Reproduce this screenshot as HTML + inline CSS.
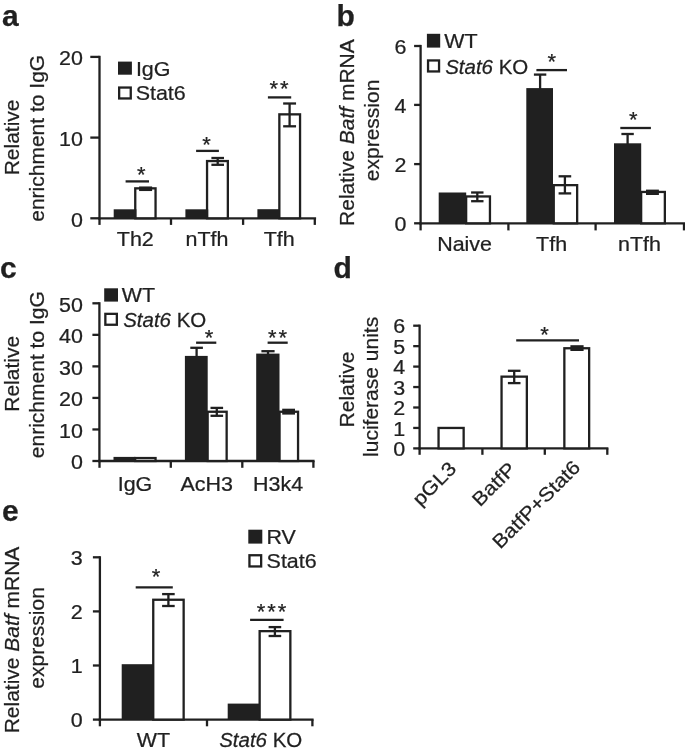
<!DOCTYPE html>
<html><head><meta charset="utf-8"><style>
html,body{margin:0;padding:0;background:#fff;}
body{width:685px;height:752px;overflow:hidden;}
svg{display:block;font-family:"Liberation Sans",sans-serif;filter:grayscale(100%);}
</style></head><body>
<svg width="685" height="752" viewBox="0 0 685 752" stroke="#231f20" stroke-linecap="butt" fill="none">
<rect x="0" y="0" width="685" height="752" fill="#fff" stroke="none"/>
<text x="2" y="25.6" font-size="30" font-weight="bold" fill="#231f20" stroke="#231f20" stroke-width="0.25">a</text>
<line x1="99.5" y1="55.8" x2="99.5" y2="219.45" stroke-width="2.3"/>
<line x1="90.3" y1="56.9" x2="99.5" y2="56.9" stroke-width="2.3"/>
<text transform="translate(82.9,65.2) scale(1.1,1)" font-size="19.5" text-anchor="end" fill="#231f20" stroke="#231f20" stroke-width="0.25">20</text>
<line x1="90.3" y1="137.6" x2="99.5" y2="137.6" stroke-width="2.3"/>
<text transform="translate(82.9,145.9) scale(1.1,1)" font-size="19.5" text-anchor="end" fill="#231f20" stroke="#231f20" stroke-width="0.25">10</text>
<line x1="90.3" y1="218.3" x2="99.5" y2="218.3" stroke-width="2.3"/>
<text transform="translate(82.9,226.6) scale(1.1,1)" font-size="19.5" text-anchor="end" fill="#231f20" stroke="#231f20" stroke-width="0.25">0</text>
<line x1="98.3" y1="218.3" x2="316.1" y2="218.3" stroke-width="2.3"/>
<line x1="99.5" y1="218.3" x2="99.5" y2="224.9" stroke-width="2.3"/>
<line x1="171" y1="218.3" x2="171" y2="224.9" stroke-width="2.3"/>
<line x1="243.1" y1="218.3" x2="243.1" y2="224.9" stroke-width="2.3"/>
<line x1="314.8" y1="218.3" x2="314.8" y2="224.9" stroke-width="2.3"/>
<rect x="135.25" y="188.35" width="20.3" height="29.95" fill="#fff" stroke-width="2.3"/>
<rect x="113.7" y="209.3" width="22.7" height="9" fill="#231f20" stroke="none"/>
<line x1="145.6" y1="187.6" x2="145.6" y2="189.9" stroke-width="2.3"/>
<line x1="139.1" y1="187.6" x2="152.1" y2="187.6" stroke-width="2.3"/>
<line x1="139.1" y1="189.9" x2="152.1" y2="189.9" stroke-width="2.3"/>
<rect x="207.05" y="161.05" width="20.8" height="57.25" fill="#fff" stroke-width="2.3"/>
<rect x="185.4" y="209.3" width="22.8" height="9" fill="#231f20" stroke="none"/>
<line x1="217.7" y1="158" x2="217.7" y2="164.8" stroke-width="2.3"/>
<line x1="211.4" y1="158" x2="224" y2="158" stroke-width="2.3"/>
<line x1="211.4" y1="164.8" x2="224" y2="164.8" stroke-width="2.3"/>
<rect x="279.35" y="114.35" width="20.7" height="103.95" fill="#fff" stroke-width="2.3"/>
<rect x="257.4" y="209.2" width="22.1" height="9.1" fill="#231f20" stroke="none"/>
<line x1="289.6" y1="103.5" x2="289.6" y2="126.3" stroke-width="2.3"/>
<line x1="283.15" y1="103.5" x2="296.05" y2="103.5" stroke-width="2.3"/>
<line x1="283.15" y1="126.3" x2="296.05" y2="126.3" stroke-width="2.3"/>
<line x1="125.6" y1="181.4" x2="149" y2="181.4" stroke-width="2.3"/>
<text x="142.4" y="181.78" font-size="22" letter-spacing="2.0" text-anchor="middle" fill="#231f20" stroke="#231f20" stroke-width="0.25">*</text>
<line x1="196.1" y1="150.9" x2="218.9" y2="150.9" stroke-width="2.3"/>
<text x="207.5" y="152.28" font-size="22" letter-spacing="2.0" text-anchor="middle" fill="#231f20" stroke="#231f20" stroke-width="0.25">*</text>
<line x1="267.9" y1="97.4" x2="291.2" y2="97.4" stroke-width="2.3"/>
<text x="280.1" y="96.38" font-size="22" letter-spacing="2.0" text-anchor="middle" fill="#231f20" stroke="#231f20" stroke-width="0.25">**</text>
<rect x="118" y="61.6" width="13.9" height="13.1" fill="#231f20" stroke="none"/>
<rect x="119.15" y="87.55" width="11.6" height="10.9" fill="#fff" stroke-width="2.3"/>
<text transform="translate(135.9,76.2) scale(1.1,1)" font-size="19.5" text-anchor="start" fill="#231f20" stroke="#231f20" stroke-width="0.25">IgG</text>
<text transform="translate(135.7,100.1) scale(1.1,1)" font-size="19.5" text-anchor="start" fill="#231f20" stroke="#231f20" stroke-width="0.25">Stat6</text>
<text transform="translate(135.3,246.4) scale(1.1,1)" font-size="19.5" text-anchor="middle" fill="#231f20" stroke="#231f20" stroke-width="0.25">Th2</text>
<text transform="translate(207,246.4) scale(1.1,1)" font-size="19.5" text-anchor="middle" fill="#231f20" stroke="#231f20" stroke-width="0.25">nTfh</text>
<text transform="translate(279.2,246.4) scale(1.1,1)" font-size="19.5" text-anchor="middle" fill="#231f20" stroke="#231f20" stroke-width="0.25">Tfh</text>
<text transform="translate(18.6,137.4) rotate(-90) scale(1,1.0)" font-size="21.0" text-anchor="middle" fill="#231f20" stroke="#231f20" stroke-width="0.25">Relative</text>
<text transform="translate(43.5,138.3) rotate(-90) scale(1,1.0)" font-size="21.0" text-anchor="middle" fill="#231f20" stroke="#231f20" stroke-width="0.25">enrichment to IgG</text>
<text x="336.6" y="25.6" font-size="30" font-weight="bold" fill="#231f20" stroke="#231f20" stroke-width="0.25">b</text>
<line x1="420.6" y1="44.9" x2="420.6" y2="224.45" stroke-width="2.3"/>
<line x1="414.1" y1="46" x2="420.6" y2="46" stroke-width="2.3"/>
<text transform="translate(406.5,53.8) scale(1.1,1)" font-size="19.5" text-anchor="end" fill="#231f20" stroke="#231f20" stroke-width="0.25">6</text>
<line x1="414.1" y1="104.9" x2="420.6" y2="104.9" stroke-width="2.3"/>
<text transform="translate(406.5,112.7) scale(1.1,1)" font-size="19.5" text-anchor="end" fill="#231f20" stroke="#231f20" stroke-width="0.25">4</text>
<line x1="414.1" y1="164.1" x2="420.6" y2="164.1" stroke-width="2.3"/>
<text transform="translate(406.5,171.9) scale(1.1,1)" font-size="19.5" text-anchor="end" fill="#231f20" stroke="#231f20" stroke-width="0.25">2</text>
<line x1="414.1" y1="223.3" x2="420.6" y2="223.3" stroke-width="2.3"/>
<text transform="translate(406.5,231.1) scale(1.1,1)" font-size="19.5" text-anchor="end" fill="#231f20" stroke="#231f20" stroke-width="0.25">0</text>
<line x1="419.5" y1="223.3" x2="685" y2="223.3" stroke-width="2.3"/>
<line x1="420.6" y1="223.3" x2="420.6" y2="230.4" stroke-width="2.3"/>
<line x1="508.4" y1="223.3" x2="508.4" y2="230.4" stroke-width="2.3"/>
<line x1="595.6" y1="223.3" x2="595.6" y2="230.4" stroke-width="2.3"/>
<line x1="684" y1="223.3" x2="684" y2="230.4" stroke-width="2.3"/>
<rect x="466.15" y="196.45" width="23.8" height="26.85" fill="#fff" stroke-width="2.3"/>
<rect x="438.7" y="192.5" width="27.5" height="30.8" fill="#231f20" stroke="none"/>
<line x1="477.3" y1="192.5" x2="477.3" y2="201.2" stroke-width="2.3"/>
<line x1="471.1" y1="192.5" x2="483.5" y2="192.5" stroke-width="2.3"/>
<line x1="471.1" y1="201.2" x2="483.5" y2="201.2" stroke-width="2.3"/>
<rect x="553.75" y="185.15" width="23.4" height="38.15" fill="#fff" stroke-width="2.3"/>
<rect x="526.3" y="88.1" width="26.7" height="135.2" fill="#231f20" stroke="none"/>
<line x1="540.1" y1="74.6" x2="540.1" y2="89.1" stroke-width="2.3"/>
<line x1="533.9" y1="74.6" x2="546.3" y2="74.6" stroke-width="2.3"/>
<line x1="564.9" y1="176.3" x2="564.9" y2="193.4" stroke-width="2.3"/>
<line x1="558.6" y1="176.3" x2="571.2" y2="176.3" stroke-width="2.3"/>
<line x1="558.6" y1="193.4" x2="571.2" y2="193.4" stroke-width="2.3"/>
<rect x="641.15" y="191.95" width="23.7" height="31.35" fill="#fff" stroke-width="2.3"/>
<rect x="614" y="143.3" width="27.2" height="80" fill="#231f20" stroke="none"/>
<line x1="627.6" y1="134" x2="627.6" y2="144.3" stroke-width="2.3"/>
<line x1="621.4" y1="134" x2="633.8" y2="134" stroke-width="2.3"/>
<rect x="646" y="189.6" width="12.9" height="5.4" fill="#231f20" stroke="none"/>
<line x1="536.4" y1="70.1" x2="567" y2="70.1" stroke-width="2.3"/>
<text x="552.9" y="68.78" font-size="22" letter-spacing="2.0" text-anchor="middle" fill="#231f20" stroke="#231f20" stroke-width="0.25">*</text>
<line x1="620.3" y1="128" x2="650.9" y2="128" stroke-width="2.3"/>
<text x="634.2" y="127.48" font-size="22" letter-spacing="2.0" text-anchor="middle" fill="#231f20" stroke="#231f20" stroke-width="0.25">*</text>
<rect x="426.9" y="33.8" width="13.3" height="13.8" fill="#231f20" stroke="none"/>
<rect x="428.05" y="60.45" width="11" height="11" fill="#fff" stroke-width="2.3"/>
<text transform="translate(444.3,48.2) scale(1.1,1)" font-size="19.5" text-anchor="start" fill="#231f20" stroke="#231f20" stroke-width="0.25">WT</text>
<text transform="translate(445.2,74) scale(1.05,1)" font-size="19.5" text-anchor="start" fill="#231f20" stroke="#231f20" stroke-width="0.25"><tspan font-style="italic">Stat6</tspan> KO</text>
<text transform="translate(464.6,251.2) scale(1.1,1)" font-size="19.5" text-anchor="middle" fill="#231f20" stroke="#231f20" stroke-width="0.25">Naive</text>
<text transform="translate(551.6,251.2) scale(1.1,1)" font-size="19.5" text-anchor="middle" fill="#231f20" stroke="#231f20" stroke-width="0.25">Tfh</text>
<text transform="translate(639.5,251.2) scale(1.1,1)" font-size="19.5" text-anchor="middle" fill="#231f20" stroke="#231f20" stroke-width="0.25">nTfh</text>
<text transform="translate(354,132.6) rotate(-90) scale(1,1.0)" font-size="21.0" text-anchor="middle" fill="#231f20" stroke="#231f20" stroke-width="0.25">Relative <tspan font-style="italic">Batf</tspan> mRNA</text>
<text transform="translate(379.3,130.4) rotate(-90) scale(1,1.0)" font-size="21.0" text-anchor="middle" fill="#231f20" stroke="#231f20" stroke-width="0.25">expression</text>
<text x="0" y="278.1" font-size="30" font-weight="bold" fill="#231f20" stroke="#231f20" stroke-width="0.25">c</text>
<line x1="99.4" y1="302.2" x2="99.4" y2="462.15" stroke-width="2.3"/>
<line x1="92.4" y1="461" x2="99.4" y2="461" stroke-width="2.3"/>
<text transform="translate(82.9,469.3) scale(1.1,1)" font-size="19.5" text-anchor="end" fill="#231f20" stroke="#231f20" stroke-width="0.25">0</text>
<line x1="92.4" y1="429.46" x2="99.4" y2="429.46" stroke-width="2.3"/>
<text transform="translate(82.9,437.76) scale(1.1,1)" font-size="19.5" text-anchor="end" fill="#231f20" stroke="#231f20" stroke-width="0.25">10</text>
<line x1="92.4" y1="397.92" x2="99.4" y2="397.92" stroke-width="2.3"/>
<text transform="translate(82.9,406.22) scale(1.1,1)" font-size="19.5" text-anchor="end" fill="#231f20" stroke="#231f20" stroke-width="0.25">20</text>
<line x1="92.4" y1="366.38" x2="99.4" y2="366.38" stroke-width="2.3"/>
<text transform="translate(82.9,374.68) scale(1.1,1)" font-size="19.5" text-anchor="end" fill="#231f20" stroke="#231f20" stroke-width="0.25">30</text>
<line x1="92.4" y1="334.84" x2="99.4" y2="334.84" stroke-width="2.3"/>
<text transform="translate(82.9,343.14) scale(1.1,1)" font-size="19.5" text-anchor="end" fill="#231f20" stroke="#231f20" stroke-width="0.25">40</text>
<line x1="92.4" y1="303.3" x2="99.4" y2="303.3" stroke-width="2.3"/>
<text transform="translate(82.9,311.6) scale(1.1,1)" font-size="19.5" text-anchor="end" fill="#231f20" stroke="#231f20" stroke-width="0.25">50</text>
<line x1="98.3" y1="461" x2="314.6" y2="461" stroke-width="2.3"/>
<line x1="99.5" y1="461" x2="99.5" y2="467.8" stroke-width="2.3"/>
<line x1="170.8" y1="461" x2="170.8" y2="467.8" stroke-width="2.3"/>
<line x1="242.3" y1="461" x2="242.3" y2="467.8" stroke-width="2.3"/>
<line x1="313.4" y1="461" x2="313.4" y2="467.8" stroke-width="2.3"/>
<rect x="135.15" y="458.05" width="20.4" height="2.95" fill="#fff" stroke-width="2.3"/>
<rect x="113.5" y="456.9" width="22" height="4.1" fill="#231f20" stroke="none"/>
<rect x="207.65" y="411.75" width="19" height="49.25" fill="#fff" stroke-width="2.3"/>
<rect x="184.9" y="355.9" width="22.8" height="105.1" fill="#231f20" stroke="none"/>
<line x1="196.6" y1="347.8" x2="196.6" y2="356.9" stroke-width="2.3"/>
<line x1="190.3" y1="347.8" x2="202.9" y2="347.8" stroke-width="2.3"/>
<line x1="216.8" y1="407.9" x2="216.8" y2="415.8" stroke-width="2.3"/>
<line x1="210.5" y1="407.9" x2="223.1" y2="407.9" stroke-width="2.3"/>
<line x1="210.5" y1="415.8" x2="223.1" y2="415.8" stroke-width="2.3"/>
<rect x="279.55" y="411.75" width="18.5" height="49.25" fill="#fff" stroke-width="2.3"/>
<rect x="256.2" y="353.6" width="23.3" height="107.4" fill="#231f20" stroke="none"/>
<line x1="268" y1="351.2" x2="268" y2="354.6" stroke-width="2.3"/>
<line x1="261.4" y1="351.2" x2="274.6" y2="351.2" stroke-width="2.3"/>
<rect x="282.2" y="408.7" width="12.8" height="5.9" fill="#231f20" stroke="none"/>
<line x1="196.1" y1="342.7" x2="216.3" y2="342.7" stroke-width="2.3"/>
<text x="210.1" y="344.68" font-size="22" letter-spacing="2.0" text-anchor="middle" fill="#231f20" stroke="#231f20" stroke-width="0.25">*</text>
<line x1="267.6" y1="342.7" x2="287.7" y2="342.7" stroke-width="2.3"/>
<text x="278.6" y="344.68" font-size="22" letter-spacing="2.0" text-anchor="middle" fill="#231f20" stroke="#231f20" stroke-width="0.25">**</text>
<rect x="104.2" y="288.3" width="13.8" height="13.3" fill="#231f20" stroke="none"/>
<rect x="105.35" y="313.85" width="11.5" height="10.9" fill="#fff" stroke-width="2.3"/>
<text transform="translate(121.8,302.4) scale(1.1,1)" font-size="19.5" text-anchor="start" fill="#231f20" stroke="#231f20" stroke-width="0.25">WT</text>
<text transform="translate(123.2,326.6) scale(1.05,1)" font-size="19.5" text-anchor="start" fill="#231f20" stroke="#231f20" stroke-width="0.25"><tspan font-style="italic">Stat6</tspan> KO</text>
<text transform="translate(135,490.8) scale(1.1,1)" font-size="19.5" text-anchor="middle" fill="#231f20" stroke="#231f20" stroke-width="0.25">IgG</text>
<text transform="translate(206.7,490.8) scale(1.1,1)" font-size="19.5" text-anchor="middle" fill="#231f20" stroke="#231f20" stroke-width="0.25">AcH3</text>
<text transform="translate(278.1,490.8) scale(1.1,1)" font-size="19.5" text-anchor="middle" fill="#231f20" stroke="#231f20" stroke-width="0.25">H3k4</text>
<text transform="translate(18.6,373.8) rotate(-90) scale(1,1.0)" font-size="21.0" text-anchor="middle" fill="#231f20" stroke="#231f20" stroke-width="0.25">Relative</text>
<text transform="translate(43.5,374.7) rotate(-90) scale(1,1.0)" font-size="21.0" text-anchor="middle" fill="#231f20" stroke="#231f20" stroke-width="0.25">enrichment to IgG</text>
<text x="333.5" y="278.1" font-size="30" font-weight="bold" fill="#231f20" stroke="#231f20" stroke-width="0.25">d</text>
<line x1="419.6" y1="324.6" x2="419.6" y2="449.55" stroke-width="2.3"/>
<line x1="413.2" y1="448.4" x2="419.6" y2="448.4" stroke-width="2.3"/>
<text transform="translate(405.3,456) scale(1.1,1)" font-size="19.5" text-anchor="end" fill="#231f20" stroke="#231f20" stroke-width="0.25">0</text>
<line x1="413.2" y1="427.95" x2="419.6" y2="427.95" stroke-width="2.3"/>
<text transform="translate(405.3,435.55) scale(1.1,1)" font-size="19.5" text-anchor="end" fill="#231f20" stroke="#231f20" stroke-width="0.25">1</text>
<line x1="413.2" y1="407.5" x2="419.6" y2="407.5" stroke-width="2.3"/>
<text transform="translate(405.3,415.1) scale(1.1,1)" font-size="19.5" text-anchor="end" fill="#231f20" stroke="#231f20" stroke-width="0.25">2</text>
<line x1="413.2" y1="387.05" x2="419.6" y2="387.05" stroke-width="2.3"/>
<text transform="translate(405.3,394.65) scale(1.1,1)" font-size="19.5" text-anchor="end" fill="#231f20" stroke="#231f20" stroke-width="0.25">3</text>
<line x1="413.2" y1="366.6" x2="419.6" y2="366.6" stroke-width="2.3"/>
<text transform="translate(405.3,374.2) scale(1.1,1)" font-size="19.5" text-anchor="end" fill="#231f20" stroke="#231f20" stroke-width="0.25">4</text>
<line x1="413.2" y1="346.15" x2="419.6" y2="346.15" stroke-width="2.3"/>
<text transform="translate(405.3,353.75) scale(1.1,1)" font-size="19.5" text-anchor="end" fill="#231f20" stroke="#231f20" stroke-width="0.25">5</text>
<line x1="413.2" y1="325.7" x2="419.6" y2="325.7" stroke-width="2.3"/>
<text transform="translate(405.3,333.3) scale(1.1,1)" font-size="19.5" text-anchor="end" fill="#231f20" stroke="#231f20" stroke-width="0.25">6</text>
<line x1="418.4" y1="448.4" x2="608.4" y2="448.4" stroke-width="2.3"/>
<line x1="419.6" y1="448.4" x2="419.6" y2="454.8" stroke-width="2.3"/>
<line x1="482.4" y1="448.4" x2="482.4" y2="454.8" stroke-width="2.3"/>
<line x1="544.8" y1="448.4" x2="544.8" y2="454.8" stroke-width="2.3"/>
<line x1="607.3" y1="448.4" x2="607.3" y2="454.8" stroke-width="2.3"/>
<rect x="438.55" y="427.95" width="25.1" height="20.45" fill="#fff" stroke-width="2.3"/>
<rect x="501.55" y="376.65" width="25.3" height="71.75" fill="#fff" stroke-width="2.3"/>
<line x1="514.2" y1="370.8" x2="514.2" y2="383.1" stroke-width="2.3"/>
<line x1="507.9" y1="370.8" x2="520.5" y2="370.8" stroke-width="2.3"/>
<line x1="507.9" y1="383.1" x2="520.5" y2="383.1" stroke-width="2.3"/>
<rect x="564.35" y="348.25" width="24.8" height="100.15" fill="#fff" stroke-width="2.3"/>
<rect x="570.4" y="345.2" width="13.2" height="5.8" fill="#231f20" stroke="none"/>
<line x1="516.2" y1="340.4" x2="579" y2="340.4" stroke-width="2.3"/>
<text x="545.6" y="341.58" font-size="22" letter-spacing="2.0" text-anchor="middle" fill="#231f20" stroke="#231f20" stroke-width="0.25">*</text>
<text transform="translate(457.5,469.9) rotate(-45) scale(1.1,1)" font-size="19.5" text-anchor="end" fill="#231f20" stroke="#231f20" stroke-width="0.25">pGL3</text>
<text transform="translate(517,470.4) rotate(-45) scale(1.1,1)" font-size="19.5" text-anchor="end" fill="#231f20" stroke="#231f20" stroke-width="0.25">BatfP</text>
<text transform="translate(581.5,468.5) rotate(-45) scale(1.1,1)" font-size="19.5" text-anchor="end" fill="#231f20" stroke="#231f20" stroke-width="0.25">BatfP+Stat6</text>
<text transform="translate(353.6,389.5) rotate(-90) scale(1,1.0)" font-size="21.0" text-anchor="middle" fill="#231f20" stroke="#231f20" stroke-width="0.25">Relative</text>
<text transform="translate(378.4,386.9) rotate(-90) scale(1,1.0)" font-size="21.0" text-anchor="middle" fill="#231f20" stroke="#231f20" stroke-width="0.25">luciferase units</text>
<text x="2" y="521.3" font-size="30" font-weight="bold" fill="#231f20" stroke="#231f20" stroke-width="0.25">e</text>
<line x1="99.9" y1="556.2" x2="99.9" y2="720.75" stroke-width="2.3"/>
<line x1="92.9" y1="719.6" x2="99.9" y2="719.6" stroke-width="2.3"/>
<text transform="translate(82.8,727.2) scale(1.1,1)" font-size="19.5" text-anchor="end" fill="#231f20" stroke="#231f20" stroke-width="0.25">0</text>
<line x1="92.9" y1="665.5" x2="99.9" y2="665.5" stroke-width="2.3"/>
<text transform="translate(82.8,673.1) scale(1.1,1)" font-size="19.5" text-anchor="end" fill="#231f20" stroke="#231f20" stroke-width="0.25">1</text>
<line x1="92.9" y1="611.4" x2="99.9" y2="611.4" stroke-width="2.3"/>
<text transform="translate(82.8,619) scale(1.1,1)" font-size="19.5" text-anchor="end" fill="#231f20" stroke="#231f20" stroke-width="0.25">2</text>
<line x1="92.9" y1="557.3" x2="99.9" y2="557.3" stroke-width="2.3"/>
<text transform="translate(82.8,564.9) scale(1.1,1)" font-size="19.5" text-anchor="end" fill="#231f20" stroke="#231f20" stroke-width="0.25">3</text>
<line x1="98.7" y1="719.6" x2="313.6" y2="719.6" stroke-width="2.3"/>
<line x1="99.9" y1="719.6" x2="99.9" y2="726.3" stroke-width="2.3"/>
<line x1="207" y1="719.6" x2="207" y2="726.3" stroke-width="2.3"/>
<line x1="312.4" y1="719.6" x2="312.4" y2="726.3" stroke-width="2.3"/>
<rect x="153.25" y="599.75" width="30.4" height="119.85" fill="#fff" stroke-width="2.3"/>
<rect x="121.7" y="664.2" width="31.9" height="55.4" fill="#231f20" stroke="none"/>
<line x1="168.4" y1="594.1" x2="168.4" y2="606" stroke-width="2.3"/>
<line x1="162.1" y1="594.1" x2="174.7" y2="594.1" stroke-width="2.3"/>
<line x1="162.1" y1="606" x2="174.7" y2="606" stroke-width="2.3"/>
<rect x="259.65" y="631.15" width="30.7" height="88.45" fill="#fff" stroke-width="2.3"/>
<rect x="227.7" y="703.6" width="31.9" height="16" fill="#231f20" stroke="none"/>
<line x1="274.9" y1="627.1" x2="274.9" y2="636" stroke-width="2.3"/>
<line x1="268.6" y1="627.1" x2="281.2" y2="627.1" stroke-width="2.3"/>
<line x1="268.6" y1="636" x2="281.2" y2="636" stroke-width="2.3"/>
<line x1="135.7" y1="587.4" x2="172.8" y2="587.4" stroke-width="2.3"/>
<text x="157" y="584.38" font-size="22" letter-spacing="2.0" text-anchor="middle" fill="#231f20" stroke="#231f20" stroke-width="0.25">*</text>
<line x1="250.1" y1="619.9" x2="283.6" y2="619.9" stroke-width="2.3"/>
<text x="272.6" y="619.48" font-size="22" letter-spacing="2.0" text-anchor="middle" fill="#231f20" stroke="#231f20" stroke-width="0.25">***</text>
<rect x="248.3" y="529.7" width="14" height="13.9" fill="#231f20" stroke="none"/>
<rect x="249.45" y="555.25" width="11.7" height="11.2" fill="#fff" stroke-width="2.3"/>
<text transform="translate(266.5,543.9) scale(1.1,1)" font-size="19.5" text-anchor="start" fill="#231f20" stroke="#231f20" stroke-width="0.25">RV</text>
<text transform="translate(266.6,567.6) scale(1.1,1)" font-size="19.5" text-anchor="start" fill="#231f20" stroke="#231f20" stroke-width="0.25">Stat6</text>
<text transform="translate(153.4,747) scale(1.1,1)" font-size="19.5" text-anchor="middle" fill="#231f20" stroke="#231f20" stroke-width="0.25">WT</text>
<text transform="translate(260.7,747) scale(1.05,1)" font-size="19.5" text-anchor="middle" fill="#231f20" stroke="#231f20" stroke-width="0.25"><tspan font-style="italic">Stat6</tspan> KO</text>
<text transform="translate(18.8,640) rotate(-90) scale(1,1.0)" font-size="21.0" text-anchor="middle" fill="#231f20" stroke="#231f20" stroke-width="0.25">Relative <tspan font-style="italic">Batf</tspan> mRNA</text>
<text transform="translate(43.7,637.9) rotate(-90) scale(1,1.0)" font-size="21.0" text-anchor="middle" fill="#231f20" stroke="#231f20" stroke-width="0.25">expression</text>
</svg>
</body></html>
